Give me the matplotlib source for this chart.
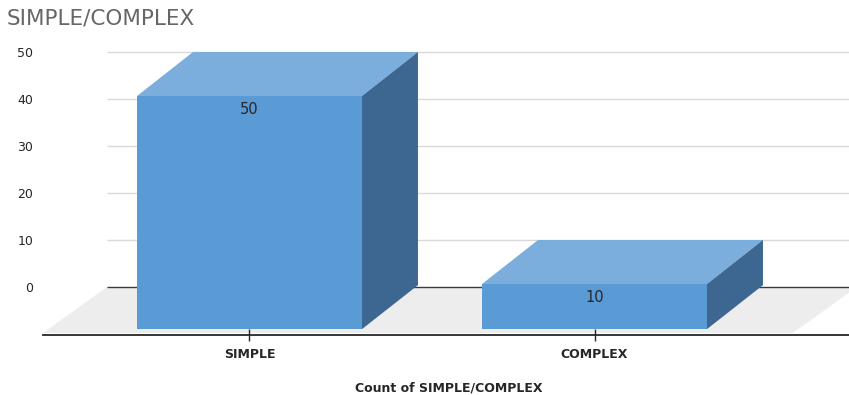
import matplotlib
matplotlib.use("Agg")
import matplotlib.pyplot as plt
from matplotlib.patches import Polygon

# Chart data
categories = ["SIMPLE", "COMPLEX"]
counts = [50, 10]
y_ticks = [0, 10, 20, 30, 40, 50]
title = "SIMPLE/COMPLEX"
x_title = "Count of SIMPLE/COMPLEX"

plt.rcParams["font.family"] = ["DejaVu Sans"]

W, H = 849, 395
fig = plt.figure(figsize=(W / 100, H / 100), dpi=100)

# Plot box (pixels) and the scale of the back wall
left_px, right_px, bottom_px, top_px = 43, 849, 335, 40
cat_px, val_px = 345.0, 4.7          # pixels per category step / per unit value
cat0_px, zero_px = 249.5, 287.0      # front centre of first bar / back-wall zero line

ax = fig.add_axes([left_px / W, (H - bottom_px) / H,
                   (right_px - left_px) / W, (bottom_px - top_px) / H])
xmin = (left_px - cat0_px) / cat_px
xmax = (right_px - cat0_px) / cat_px
ax.set_xlim(xmin, xmax)
ax.set_ylim((zero_px - bottom_px) / val_px, (zero_px - top_px) / val_px)

# Oblique depth offsets (back minus front), in data units
bar_dx, bar_dz = 56 / cat_px, 44 / val_px
floor_dx, floor_dz = 64 / cat_px, 46 / val_px
half_w = 0.326
lift = 0.4

# Floor
floor_back_left = xmin + floor_dx
floor_back_right = 1.575 + floor_dx
floor = Polygon([(xmin, -floor_dz), (1.575, -floor_dz),
                 (floor_back_right, 0), (floor_back_left, 0)],
                closed=True, facecolor="#EDEDED", edgecolor="none", zorder=1)
ax.add_patch(floor)

# Back-wall gridlines
ax.hlines(y_ticks[1:], floor_back_left, xmax, colors="#D9D9D9", linewidth=1, zorder=0)
ax.hlines(0, floor_back_left, xmax, colors="#3A3A3A", linewidth=1, zorder=2)

# 3D-style bars
front_c, top_c, side_c = "#5B9BD5", "#7BAEDD", "#3D6790"
for i, v in enumerate(counts):
    fb = lift - bar_dz          # front bottom
    ft = v - bar_dz             # front top
    xl, xr = i - half_w, i + half_w
    ax.add_patch(Polygon([(xl, fb), (xr, fb), (xr, ft), (xl, ft)],
                         facecolor=front_c, edgecolor="none", zorder=3))
    ax.add_patch(Polygon([(xl, ft), (xr, ft), (xr + bar_dx, v), (xl + bar_dx, v)],
                         facecolor=top_c, edgecolor="none", zorder=3))
    ax.add_patch(Polygon([(xr, fb), (xr + bar_dx, lift), (xr + bar_dx, v), (xr, ft)],
                         facecolor=side_c, edgecolor="none", zorder=3))
    ax.annotate(str(v), xy=(i, ft), xytext=(0, -14), textcoords="offset pixels",
                ha="center", va="center", fontsize=10.5, color="#262626", zorder=4)

# Axes styling
for s in ("left", "right", "top"):
    ax.spines[s].set_visible(False)
ax.spines["bottom"].set_color("#262626")
ax.spines["bottom"].set_linewidth(1.3)

ax.set_xticks(range(len(categories)))
ax.set_xticklabels(categories, fontsize=9, fontweight="bold", color="#262626")
ax.tick_params(axis="x", direction="inout", length=9, width=1, color="#262626", pad=5)

ax.set_yticks(y_ticks)
ax.set_yticklabels([str(t) for t in y_ticks], fontsize=9, color="#262626")
ax.tick_params(axis="y", length=0, pad=7)

ax.set_xlabel(x_title, fontsize=9, fontweight="bold", color="#262626", va="center")
ax.xaxis.set_label_coords((449 - left_px) / (right_px - left_px),
                          -(388 - bottom_px) / (bottom_px - top_px))

fig.text(7 / W, 1 - 18 / H, title, ha="left", va="center",
         fontsize=15.5, color="#666666")

fig.savefig("out.png", dpi=100)
